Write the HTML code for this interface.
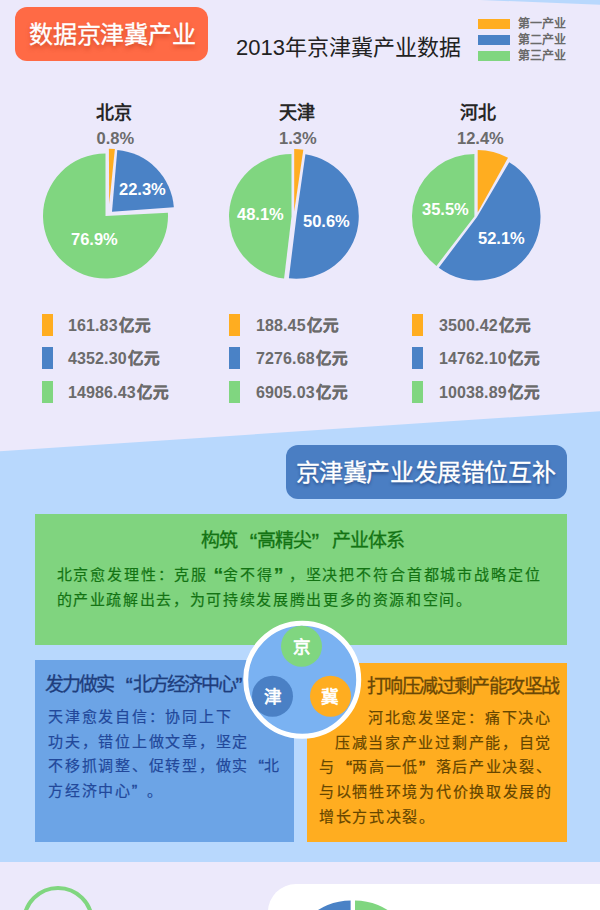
<!DOCTYPE html>
<html lang="zh-CN">
<head>
<meta charset="utf-8">
<style>
*{margin:0;padding:0;box-sizing:border-box}
html,body{width:600px;height:910px;overflow:hidden;background:#ECE9FB}
body{position:relative;font-family:"Liberation Sans",sans-serif}
.abs{position:absolute;white-space:nowrap}
svg.bg{position:absolute;left:0;top:0}
.ql,.qr{display:inline-block;width:1em;letter-spacing:0;position:relative}
.ql{text-align:right}.qr{text-align:left}
.ql i,.qr i{font-style:normal;font-weight:bold;font-size:1.3em;line-height:1px;position:relative;top:0.12em}
.t1{left:15px;top:7px;width:193px;height:54px;background:#FF6A45;border-radius:12px;color:#fff;font-size:24px;letter-spacing:-0.2px;line-height:55.5px;padding-left:14px;text-shadow:0 3px 4px rgba(160,40,10,.5);-webkit-text-stroke:0.35px #fff}
.t2{left:236px;top:34px;font-size:22px;line-height:28px;color:#222}
.leg{left:478px;width:32px;height:10px}
.legt{left:518px;font-size:12px;line-height:17px;color:#6a6a6a;font-weight:bold}
.city{font-size:18px;font-weight:bold;color:#262626;line-height:22px}
.pct{font-size:16.5px;font-weight:bold;color:#6B6B6B;line-height:18px}
.wp{font-size:16.5px;font-weight:bold;color:#fff;line-height:18px}
.sw{width:11px;height:21.5px}
.val{font-size:16px;font-weight:bold;color:#6B6B6B;line-height:20px;letter-spacing:0.12px}
.val b{font-size:15.5px;letter-spacing:0;font-weight:bold;margin-left:1.5px;-webkit-text-stroke:0.35px #6B6B6B;position:relative;top:0px}
.banner{left:286px;top:445px;width:281px;height:54px;background:#4A7EC3;border-radius:12px;color:#fff;font-size:24px;letter-spacing:-0.4px;line-height:56px;padding-left:9.5px;text-shadow:0 2px 3px rgba(10,30,80,.5);-webkit-text-stroke:0.3px #fff}
.gbox{left:35px;top:514px;width:532px;height:131px;background:#80D47F}
.bbox{left:35px;top:660px;width:259px;height:182px;background:#6CA4E6}
.obox{left:307px;top:663px;width:260px;height:179px;background:#FFAD20}
.gt{font-size:19px;letter-spacing:-0.9px;color:#137313;line-height:24px;-webkit-text-stroke:0.3px #137313}
.gb{font-size:15px;color:#137313;line-height:23px;letter-spacing:1.85px;-webkit-text-stroke:0.2px #137313}
.bt{font-size:19px;color:#1E3D7C;line-height:24px;letter-spacing:-1.85px;-webkit-text-stroke:0.3px #1E3D7C}
.bb{font-size:15px;color:#22489A;line-height:24px;letter-spacing:1.75px;-webkit-text-stroke:0.2px #22489A}
.ot{font-size:19px;color:#6A4806;line-height:24px;letter-spacing:-1.6px;-webkit-text-stroke:0.3px #6A4806}
.ob{font-size:15px;color:#664600;line-height:24px;letter-spacing:1.7px;-webkit-text-stroke:0.2px #664600}
.bt .ql i,.bt .qr i,.bb .ql i,.bb .qr i{font-size:1.1em;top:0.05em;font-weight:normal;-webkit-text-stroke:0.4px currentColor}
.gt .ql,.gt .qr{width:1.08em}
.ob .ql,.ob .qr{width:1.1em}.ob .ql i,.ob .qr i{font-weight:normal;font-size:1.25em;-webkit-text-stroke:0.5px #664600}.gt .ql i,.gt .qr i{font-weight:normal;font-size:1.2em;top:0.1em}
.sc{width:41px;height:41px;border-radius:50%;color:#fff;font-size:17.5px;font-weight:normal;line-height:41px;text-align:center;-webkit-text-stroke:0.7px #fff}
</style>
</head>
<body>
<svg class="bg" width="600" height="910" viewBox="0 0 600 910">
<polygon points="480,0 600,0 600,4.8" fill="#B8D8FD"/>
<polygon points="0,451.25 600,411.25 600,862 0,862" fill="#B8D8FD"/>
<rect x="268" y="884" width="400" height="100" rx="28" fill="#fff"/>
<circle cx="58" cy="922" r="34" fill="none" stroke="#80D680" stroke-width="4"/>
<path d="M105.50 216.00L167.91 212.73A62.5 62.5 0 1 1 105.50 153.50Z" fill="#80D680"/>
<path d="M109.2 204L108.9 148.8A62.5 62.5 0 0 1 114.89 149.09Z" fill="#FFAD20"/>
<path d="M112.00 211.70L117.30 149.93A62 62 0 0 1 173.84 207.27Z" fill="#4A82C6"/>
<path d="M291.50 216.50L284.10 278.56A62.5 62.5 0 0 1 291.50 154.00Z" fill="#80D680"/>
<path d="M294.20 211.50L294.20 149.00A62.5 62.5 0 0 1 303.33 149.67Z" fill="#FFAD20"/>
<path d="M296.50 216.20L305.41 154.34A62.5 62.5 0 0 1 288.88 278.23Z" fill="#4A82C6"/>
<path d="M474.40 216.40L436.41 265.91A62.4 62.4 0 0 1 474.40 154.00Z" fill="#80D680"/>
<path d="M477.70 212.50L477.70 150.00A62.5 62.5 0 0 1 508.00 157.84Z" fill="#FFAD20"/>
<path d="M477.00 217.00L509.23 162.29A63.5 63.5 0 1 1 438.78 267.71Z" fill="#4A82C6"/>
<path d="M350.60 960.40L290.60 960.40A60 60 0 0 1 350.60 900.40Z" fill="#4A82C6"/>
<path d="M355.00 960.40L355.00 900.40A60 60 0 0 1 415.00 960.40Z" fill="#80D680"/>
</svg>

<div class="abs t1">数据京津冀产业</div>
<div class="abs t2">2013年京津冀产业数据</div>
<div class="abs leg" style="top:19px;background:#FFAD20"></div>
<div class="abs leg" style="top:35px;background:#4A82C6"></div>
<div class="abs leg" style="top:51px;background:#80D680"></div>
<div class="abs legt" style="top:16px">第一产业</div>
<div class="abs legt" style="top:32px">第二产业</div>
<div class="abs legt" style="top:48px">第三产业</div>

<div class="abs city" style="left:96px;top:101.5px">北京</div>
<div class="abs city" style="left:279px;top:101.5px">天津</div>
<div class="abs city" style="left:460px;top:101.5px">河北</div>
<div class="abs pct" style="left:96.5px;top:128.8px">0.8%</div>
<div class="abs pct" style="left:279px;top:128.8px">1.3%</div>
<div class="abs pct" style="left:457px;top:128.8px">12.4%</div>

<div class="abs wp" style="left:119px;top:180px">22.3%</div>
<div class="abs wp" style="left:71px;top:230px">76.9%</div>
<div class="abs wp" style="left:237px;top:204.5px">48.1%</div>
<div class="abs wp" style="left:303px;top:212px">50.6%</div>
<div class="abs wp" style="left:422px;top:200px">35.5%</div>
<div class="abs wp" style="left:478px;top:228.8px">52.1%</div>

<div class="abs sw" style="left:42px;top:314.25px;background:#FFAD20"></div>
<div class="abs sw" style="left:42px;top:347.25px;background:#4A82C6"></div>
<div class="abs sw" style="left:42px;top:381.25px;background:#80D680"></div>
<div class="abs sw" style="left:229px;top:314.25px;background:#FFAD20"></div>
<div class="abs sw" style="left:229px;top:347.25px;background:#4A82C6"></div>
<div class="abs sw" style="left:229px;top:381.25px;background:#80D680"></div>
<div class="abs sw" style="left:412px;top:314.25px;background:#FFAD20"></div>
<div class="abs sw" style="left:412px;top:347.25px;background:#4A82C6"></div>
<div class="abs sw" style="left:412px;top:381.25px;background:#80D680"></div>

<div class="abs val" style="left:68px;top:315.5px">161.83<b>亿元</b></div>
<div class="abs val" style="left:68px;top:348.5px">4352.30<b>亿元</b></div>
<div class="abs val" style="left:68px;top:382.5px">14986.43<b>亿元</b></div>
<div class="abs val" style="left:256px;top:315.5px">188.45<b>亿元</b></div>
<div class="abs val" style="left:256px;top:348.5px">7276.68<b>亿元</b></div>
<div class="abs val" style="left:256px;top:382.5px">6905.03<b>亿元</b></div>
<div class="abs val" style="left:439px;top:315.5px">3500.42<b>亿元</b></div>
<div class="abs val" style="left:439px;top:348.5px">14762.10<b>亿元</b></div>
<div class="abs val" style="left:439px;top:382.5px">10038.89<b>亿元</b></div>

<div class="abs banner">京津冀产业发展错位互补</div>

<div class="abs gbox"></div>
<div class="abs bbox"></div>
<div class="abs obox"></div>
<div class="abs gt" style="left:200.5px;top:528.5px">构筑<span class="ql"><i>“</i></span>高精尖<span class="qr"><i>”</i></span>产业体系</div>
<div class="abs gb" style="left:56.5px;top:563px">北京愈发理性：克服<span class="ql"><i>“</i></span>舍不得<span class="qr"><i>”</i></span>，坚决把不符合首都城市战略定位</div>
<div class="abs gb" style="left:56.5px;top:588px;letter-spacing:1.65px">的产业疏解出去，为可持续发展腾出更多的资源和空间。</div>

<div class="abs bt" style="left:45px;top:672.5px">发力做实<span class="ql"><i>“</i></span>北方经济中心<span class="qr"><i>”</i></span></div>
<div class="abs bb" style="left:48px;top:705px">天津愈发自信：协同上下</div>
<div class="abs bb" style="left:48px;top:730px">功夫，错位上做文章，坚定</div>
<div class="abs bb" style="left:48px;top:754px">不移抓调整、促转型，做实<span class="ql"><i>“</i></span>北</div>
<div class="abs bb" style="left:48px;top:779px">方经济中心<span class="qr"><i>”</i></span>。</div>

<div class="abs ot" style="left:367px;top:674.5px">打响压减过剩产能攻坚战</div>
<div class="abs ob" style="left:368px;top:706px">河北愈发坚定：痛下决心</div>
<div class="abs ob" style="left:335px;top:731px">压减当家产业过剩产能，自觉</div>
<div class="abs ob" style="left:319px;top:755px">与<span class="ql"><i>“</i></span>两高一低<span class="qr"><i>”</i></span>落后产业决裂、</div>
<div class="abs ob" style="left:319px;top:780px">与以牺牲环境为代价换取发展的</div>
<div class="abs ob" style="left:319px;top:805px">增长方式决裂。</div>

<svg class="bg" width="600" height="910" viewBox="0 0 600 910">
<circle cx="302.2" cy="679.7" r="56.5" fill="#7AB2F2" stroke="#fff" stroke-width="5"/>
<circle cx="301.5" cy="646.3" r="20.5" fill="#80D680"/>
<circle cx="272.5" cy="696.2" r="20.5" fill="#4A80C5"/>
<circle cx="330.5" cy="696.2" r="20.5" fill="#FFAD20"/>
</svg>
<div class="abs sc" style="left:281px;top:626.5px">京</div>
<div class="abs sc" style="left:252px;top:676.5px">津</div>
<div class="abs sc" style="left:309px;top:676.5px">冀</div>
</body>
</html>
